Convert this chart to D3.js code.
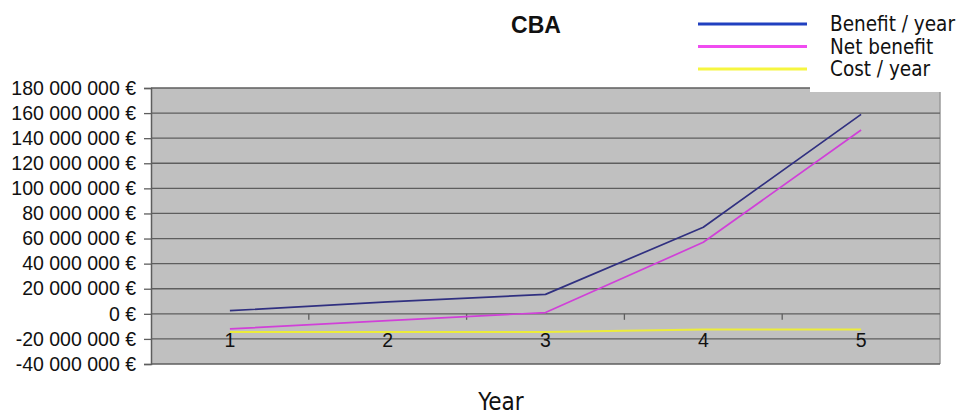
<!DOCTYPE html>
<html>
<head>
<meta charset="utf-8">
<script src="https://cdn.jsdelivr.net/npm/d3@7"></script>
<style>
  html, body { margin: 0; padding: 0; background: #ffffff; }
  svg { display: block; }
  .axis-label { font-family: "Liberation Sans", Arial, sans-serif; font-size: 19.5px; fill: #111; }
  .legend-text, .x-title { font-family: "DejaVu Sans Condensed", "DejaVu Sans", sans-serif; font-stretch: condensed; fill: #111; }
</style>
</head>
<body>
<svg id="chart" width="960" height="416"></svg>
<script>
// Years on the category axis
const years = [1, 2, 3, 4, 5];

// Yearly figures in euros
const benefitPerYear = [2500000, 9500000, 15500000, 69000000, 159000000];
const netBenefit = [-12000000, -5500000, 1000000, 57000000, 146500000];
const costPerYear = [-14500000, -14500000, -14500000, -12500000, -12500000];

// Value axis ticks
const yTicks = [-40000000, -20000000, 0, 20000000, 40000000, 60000000, 80000000,
  100000000, 120000000, 140000000, 160000000, 180000000];

const seriesNames = ["Benefit / year", "Net benefit", "Cost / year"];

const svg = d3.select("#chart");

const plot = { left: 151, right: 940, top: 88, bottom: 364 };

const x = d3.scaleBand().domain(years).range([plot.left, plot.right]).padding(0);
const y = d3.scaleLinear().domain([-40000000, 180000000]).range([plot.bottom, plot.top]);

const euro = d3.formatLocale({ decimal: ",", thousands: " ", grouping: [3], currency: ["", " €"], minus: "-" });
const fmt = v => euro.format(",")(v) + " €";

// Plot area background
svg.append("rect")
  .attr("x", plot.left).attr("y", plot.top)
  .attr("width", plot.right - plot.left).attr("height", plot.bottom - plot.top)
  .attr("fill", "#c0c0c0");

// Right border of the plot area
svg.append("line")
  .attr("x1", plot.right).attr("x2", plot.right)
  .attr("y1", plot.top).attr("y2", plot.bottom)
  .attr("stroke", "#9a9a9a").attr("stroke-width", 1.5);

// Horizontal gridlines
svg.append("g").selectAll("line").data(yTicks).join("line")
  .attr("x1", plot.left).attr("x2", plot.right)
  .attr("y1", d => y(d)).attr("y2", d => y(d))
  .attr("stroke", "#5e5e5e").attr("stroke-width", 1.3);

// Value axis
const yAxis = svg.append("g")
  .attr("transform", `translate(${plot.left},0)`)
  .call(d3.axisLeft(y).tickValues(yTicks).tickFormat(fmt).tickSize(7).tickPadding(8));
yAxis.select(".domain").attr("stroke", "#5e5e5e").attr("stroke-width", 1.5);
yAxis.selectAll(".tick line").attr("stroke", "#5e5e5e").attr("stroke-width", 1.3);
yAxis.selectAll(".tick text").attr("class", "axis-label").attr("font-size", null).attr("font-family", null);
yAxis.attr("font-size", null).attr("font-family", null);

// Category axis crossing at zero
const xAxis = svg.append("g")
  .attr("transform", `translate(0,${y(0)})`)
  .call(d3.axisBottom(x).tickSize(0).tickPadding(19));
xAxis.select(".domain").remove();
xAxis.selectAll(".tick text").attr("class", "axis-label").attr("font-size", null).attr("font-family", null);
xAxis.attr("font-size", null).attr("font-family", null);

// Tick marks between categories
svg.append("g").selectAll("line").data(years.slice(1)).join("line")
  .attr("x1", d => x(d)).attr("x2", d => x(d))
  .attr("y1", y(0)).attr("y2", y(0) + 6)
  .attr("stroke", "#5e5e5e").attr("stroke-width", 1.3);

const cx = d => x(d) + x.bandwidth() / 2;

const series = [
  { name: seriesNames[0], values: benefitPerYear, line: "#303080", key: "#2040c0", w: 1.7 },
  { name: seriesNames[1], values: netBenefit, line: "#d040d8", key: "#f04cf0", w: 1.7 },
  { name: seriesNames[2], values: costPerYear, line: "#ecec3a", key: "#f6f640", w: 2.2 }
];

const lineGen = d3.line().x((d, i) => cx(years[i])).y(d => y(d));

// Draw cost first so the others sit on top
[series[2], series[1], series[0]].forEach(s => {
  svg.append("path")
    .datum(s.values)
    .attr("d", lineGen)
    .attr("fill", "none")
    .attr("stroke", s.line)
    .attr("stroke-width", s.w)
    .attr("stroke-linejoin", "round");
});

// Legend box
svg.append("rect")
  .attr("x", 810).attr("y", 0).attr("width", 150).attr("height", 92)
  .attr("fill", "#ffffff");

const legend = svg.append("g");
series.forEach((s, i) => {
  const ly = 24 + i * 22.5;
  legend.append("line")
    .attr("x1", 698).attr("x2", 807)
    .attr("y1", ly).attr("y2", ly)
    .attr("stroke", s.key).attr("stroke-width", 3);
  legend.append("text")
    .attr("class", "legend-text")
    .attr("x", 830).attr("y", ly)
    .attr("dy", "0.36em")
    .attr("font-size", 20.5)
    .text(s.name);
});

// Title
svg.append("text")
  .attr("x", 536).attr("y", 33)
  .attr("text-anchor", "middle")
  .attr("font-family", "Liberation Sans, Arial, sans-serif")
  .attr("font-weight", "bold")
  .attr("font-size", 23)
  .attr("fill", "#111")
  .text("CBA");

// Axis title
svg.append("text")
  .attr("class", "x-title")
  .attr("x", 501).attr("y", 410)
  .attr("text-anchor", "middle")
  .attr("font-size", 24)
  .text("Year");
</script>
</body>
</html>
